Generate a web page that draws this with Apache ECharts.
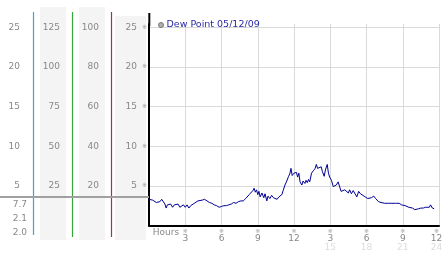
<!DOCTYPE html>
<html><head><meta charset="utf-8">
<script src="https://cdn.jsdelivr.net/npm/echarts@6/dist/echarts.min.js"></script>
<style>html,body{margin:0;padding:0;background:#fff}#c{width:442px;height:253px}</style>
</head><body><div id="c"></div>
<script>
const seriesName = 'Dew Point 05/12/09';
const hours = [0.00,0.15,0.30,0.45,0.60,0.75,0.90,1.05,1.20,1.32,1.42,1.52,1.65,1.80,1.95,2.10,2.25,2.40,2.55,2.70,2.85,3.00,3.15,3.30,3.45,3.60,3.75,3.90,4.05,4.20,4.40,4.60,4.80,5.00,5.20,5.40,5.60,5.80,6.00,6.20,6.40,6.60,6.80,7.00,7.20,7.40,7.60,7.80,8.00,8.15,8.30,8.45,8.60,8.70,8.80,8.90,9.00,9.10,9.20,9.35,9.50,9.60,9.75,9.85,10.00,10.15,10.30,10.45,10.60,10.75,10.90,11.00,11.10,11.25,11.40,11.55,11.65,11.75,11.85,12.00,12.10,12.20,12.30,12.40,12.50,12.65,12.75,12.90,13.00,13.10,13.20,13.30,13.45,13.60,13.75,13.85,13.95,14.10,14.25,14.35,14.50,14.60,14.75,14.85,14.95,15.10,15.25,15.40,15.50,15.65,15.80,15.90,16.05,16.20,16.35,16.50,16.60,16.75,16.90,17.00,17.20,17.35,17.50,17.65,17.80,17.95,18.10,18.25,18.40,18.60,18.75,18.90,19.00,19.20,19.35,19.50,19.65,19.80,19.95,20.10,20.25,20.40,20.55,20.70,20.90,21.05,21.20,21.35,21.50,21.65,21.80,22.00,22.15,22.30,22.50,22.70,22.90,23.05,23.20,23.30,23.45,23.60];
const dewPoint = [3.3,3.1,3.2,3.0,2.9,3.1,3.0,3.3,3.1,2.7,2.2,2.6,2.4,2.7,2.3,2.6,2.4,2.7,2.3,2.5,2.6,2.3,2.6,2.2,2.5,2.7,2.8,2.9,3.1,3.3,3.2,3.3,3.1,2.9,2.8,2.6,2.5,2.3,2.4,2.5,2.5,2.6,2.7,2.9,2.8,3.0,3.1,3.1,3.4,3.6,3.9,4.0,4.4,4.7,4.2,4.5,3.9,4.3,3.6,4.1,3.5,4.0,3.1,3.7,3.4,3.8,3.5,3.7,3.3,3.6,3.5,3.9,4.4,5.1,5.6,6.2,6.5,7.2,6.3,6.6,6.4,6.7,6.1,6.6,5.5,5.1,5.6,5.3,5.7,5.4,5.8,5.5,6.6,6.9,7.2,7.7,7.2,7.0,7.4,6.8,6.2,7.0,7.7,6.6,6.1,5.7,4.9,4.7,5.1,5.5,5.3,4.3,4.1,4.5,4.7,4.1,4.5,4.0,4.4,4.2,3.6,4.3,4.0,4.1,3.7,3.8,3.4,3.2,3.5,3.7,3.4,3.2,3.0,2.9,2.7,2.8,2.7,2.8,2.7,2.8,2.7,2.8,2.7,2.8,2.6,2.6,2.5,2.3,2.3,2.1,2.2,2.0,2.0,2.1,2.2,2.2,2.3,2.5,2.3,2.6,2.2,2.1];
const xTickValues = [0,3,6,9,12,15,18,21,24];
const xTickLabels = ['Hours','3','6','9','12','3','6','9','12'];
const xTickSub = ['','','','','','15','18','21','24'];
const statLabels = ['7.7','2.1','2.0'];
const refValue = 3.6;
const yMax = 25.4;
const scaleB = 5, scaleC = 4;

const FONT = 'DejaVu Sans';
const chart = echarts.init(document.getElementById('c'), null, {renderer:'canvas'});

const gray = '#888';
function yAxisCol(max, interval, margin, extra) {
  return Object.assign({
    type:'value', position:'left', min:0, max:max, interval:interval,
    axisLine:{show:false}, axisTick:{show:false}, splitLine:{show:false},
    axisLabel:{showMinLabel:false, showMaxLabel:false, margin:margin, color:gray, fontFamily:FONT, fontSize:9}
  }, extra||{});
}

const option = {
  animation:false,
  backgroundColor:'#fff',
  grid:{left:149, right:3, top:24, bottom:27.5, outerBoundsMode:'none', containLabel:false},
  legend:{
    left:153, top:15, itemWidth:5, itemHeight:5, icon:'circle',
    data:[{name:seriesName, itemStyle:{color:'#b0b0b0', borderColor:'#777', borderWidth:1}}],
    textStyle:{color:'#2a2aa8', fontFamily:FONT, fontSize:9.5, padding:[0,0,0,-2]}
  },
  xAxis:{
    type:'value', min:0, max:24, interval:3,
    axisLine:{lineStyle:{color:'#000', width:2}},
    axisTick:{show:false},
    splitLine:{show:true, showMinLine:false, lineStyle:{color:'#d9d9d9', width:1}},
    axisLabel:{
      margin:2, color:gray, fontFamily:FONT, fontSize:9,
      formatter:function(v){
        const i = xTickValues.indexOf(v);
        if (i < 0) return '';
        if (i === 0) return '{h|' + xTickLabels[0] + '}';
        const last = i === xTickValues.length - 1;
        const m = last ? 'mL' : 'm', vv = last ? 'vL' : 'v', ff = last ? 'fL' : 'f';
        return '{' + m + '|※}\n{' + vv + '|' + xTickLabels[i] + '}' + (xTickSub[i] ? '\n{' + ff + '|' + xTickSub[i] + '}' : '');
      },
      rich:{
        h:{fontFamily:FONT, fontSize:9, color:gray, padding:[1,0,0,34], lineHeight:9},
        m:{fontFamily:FONT, fontSize:6, color:'#999', lineHeight:7},
        v:{fontFamily:FONT, fontSize:9, color:gray, lineHeight:9},
        f:{fontFamily:FONT, fontSize:9, color:'#dcdcdc', lineHeight:8},
        mL:{fontFamily:FONT, fontSize:6, color:'#999', lineHeight:7, padding:[0,5,0,0]},
        vL:{fontFamily:FONT, fontSize:9, color:gray, lineHeight:9, padding:[0,5,0,0]},
        fL:{fontFamily:FONT, fontSize:9, color:'#dcdcdc', lineHeight:8, padding:[0,5,0,0]}
      }
    }
  },
  yAxis:[
    {
      type:'value', position:'left', min:0, max:yMax, interval:5,
      axisLine:{show:true, lineStyle:{color:'#000', width:2}},
      axisTick:{show:false},
      splitLine:{show:true, showMinLine:false, showMaxLine:false, lineStyle:{color:'#d9d9d9', width:1}},
      axisLabel:{showMinLabel:false, showMaxLabel:false, margin:2, color:gray, fontFamily:FONT, fontSize:9,
        formatter:function(v){ return '{v|' + v + '}{m|※}'; },
        rich:{v:{fontFamily:FONT, fontSize:9, color:gray}, m:{fontFamily:FONT, fontSize:6, color:'#999', padding:[0,0,0,5]}}
      }
    },
    yAxisCol(yMax*scaleC, 5*scaleC, 50),
    yAxisCol(yMax*scaleB, 5*scaleB, 89),
    yAxisCol(yMax, 5, 129)
  ],
  series:[{
    name:seriesName, type:'line', showSymbol:false, symbol:'none',
    lineStyle:{color:'#000099', width:1},
    itemStyle:{color:'#b0b0b0'},
    data:hours.map(function(h,i){return [h, dewPoint[i]];}),
    z:5
  }]
};
chart.setOption(option);

const refY = chart.convertToPixel({yAxisIndex:0}, refValue);
const txt = function(t, x, y){ return {type:'text', x:x, y:y, z:3, style:{text:t, fill:gray, font:'9px "DejaVu Sans"', align:'right', verticalAlign:'middle'}}; };
chart.setOption({
  graphic:[
    {type:'rect', shape:{x:40, y:7, width:26, height:233}, style:{fill:'#f4f4f4'}, z:-5},
    {type:'rect', shape:{x:79, y:7, width:26, height:233}, style:{fill:'#f4f4f4'}, z:-5},
    {type:'rect', shape:{x:115, y:16, width:31, height:224}, style:{fill:'#f4f4f4'}, z:-5},
    {type:'line', shape:{x1:149.3, y1:13, x2:149.3, y2:26}, style:{stroke:'#000', lineWidth:2}, z:4},
    {type:'line', shape:{x1:33.5, y1:12, x2:33.5, y2:235}, style:{stroke:'#3aa7cf', lineWidth:1.2}, z:2},
    {type:'line', shape:{x1:72.5, y1:12, x2:72.5, y2:237}, style:{stroke:'#3aa53a', lineWidth:1.2}, z:2},
    {type:'line', shape:{x1:111.5, y1:12, x2:111.5, y2:237}, style:{stroke:'#b03030', lineWidth:1.2}, z:2},
    {type:'line', shape:{x1:0, y1:refY, x2:149, y2:refY}, style:{stroke:'#a0a0a0', lineWidth:2}, z:3},
    txt(statLabels[0], 27, 205),
    txt(statLabels[1], 27, 218.5),
    txt(statLabels[2], 27, 232.5)
  ]
});
</script>
</body></html>
